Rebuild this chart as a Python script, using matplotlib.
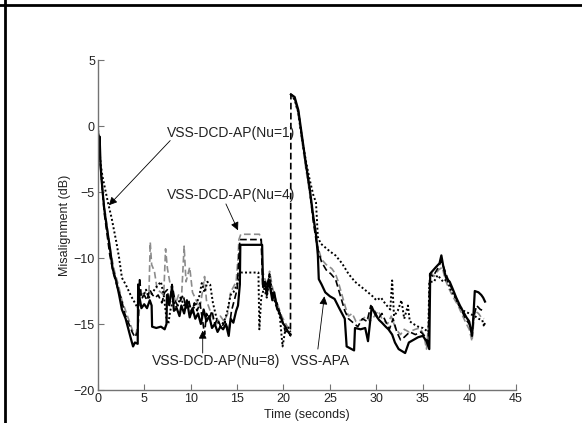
import numpy as np
import matplotlib
matplotlib.use("Agg")
import matplotlib.pyplot as plt
from matplotlib import font_manager
from matplotlib.lines import Line2D

# font: narrow sans if available (MATLAB screenshot look)
_names = {f.name for f in font_manager.fontManager.ttflist}
FONT = "Liberation Sans Narrow" if "Liberation Sans Narrow" in _names else "Liberation Sans"
plt.rcParams["font.family"] = [FONT, "DejaVu Sans"]

#  DATA  (time s, misalignment dB)
apa_pts = [
    (0, 0), (0.1, -1.5), (0.2, -0.8), (0.3, -3.0), (0.5, -4.8), (0.7, -6.3), (1.0, -7.8),
    (1.3, -9.2), (1.6, -10.8), (2.0, -11.8), (2.3, -12.8), (2.6, -13.9), (3.0, -14.6),
    (3.3, -15.4), (3.6, -16.2), (3.8, -16.7), (4.0, -16.4), (4.3, -16.5), (4.35, -12.0),
    (4.5, -13.0), (4.7, -13.8), (5.0, -13.5), (5.3, -13.8), (5.6, -13.2), (5.8, -13.6),
    (5.85, -15.2), (6.3, -15.3), (6.8, -15.2), (7.2, -15.4), (7.4, -15.0), (7.45, -12.8),
    (7.7, -13.5), (8.0, -12.2), (8.2, -14.0), (8.5, -13.8), (8.8, -14.4), (9.0, -13.6),
    (9.3, -14.2), (9.6, -13.2), (9.9, -14.5), (10.2, -13.8), (10.5, -14.6), (10.8, -14.2),
    (11.1, -15.0), (11.4, -13.9), (11.7, -14.8), (12.0, -14.4), (12.3, -15.3), (12.6, -15.0),
    (12.9, -15.6), (13.2, -15.2), (13.5, -15.4), (13.8, -15.0), (14.1, -15.9), (14.3, -14.6),
    (14.6, -14.9), (14.9, -14.0), (15.1, -13.6), (15.3, -12.0), (15.35, -9.0), (17.7, -9.0),
    (17.8, -12.2), (18.0, -11.8), (18.2, -12.8), (18.4, -11.6), (18.6, -12.4), (18.8, -13.2),
    (19.0, -12.6), (19.3, -13.8), (19.6, -14.2), (19.9, -14.9), (20.2, -15.2), (20.5, -15.6),
    (20.75, -15.8), (20.78, np.nan), (20.8, 2.4), (21.2, 2.2), (21.6, 1.2), (22.0, -0.8),
    (22.4, -2.8), (22.8, -4.6), (23.2, -6.8), (23.5, -8.2), (23.7, -9.8), (23.8, -11.6),
    (24.1, -12.0), (24.5, -12.6), (25.0, -12.9), (25.5, -13.1), (26.0, -13.8), (26.6, -14.6),
    (26.8, -16.7), (27.6, -17.0), (27.7, -15.3), (28.3, -15.4), (28.8, -15.3), (29.1, -16.3),
    (29.5, -13.7), (29.9, -14.3), (30.3, -14.7), (30.6, -14.9), (31.0, -15.2), (31.3, -15.4),
    (31.7, -15.8), (32.0, -16.4), (32.4, -16.9), (33.1, -17.2), (33.5, -16.4), (34.0, -16.2),
    (34.5, -16.0), (35.0, -15.9), (35.4, -16.3), (35.7, -16.9), (35.8, -11.2), (35.9, -11.1),
    (36.4, -10.7), (36.8, -10.4), (37.0, -9.8), (37.2, -10.6), (37.5, -11.5), (37.9, -11.8),
    (38.2, -12.3), (38.6, -13.0), (39.0, -13.6), (39.3, -14.0), (39.7, -14.5), (40.0, -14.8),
    (40.3, -15.9), (40.4, -15.0), (40.6, -12.5), (41.0, -12.6), (41.3, -12.8), (41.5, -13.0),
    (41.7, -13.3),
]

nu1_pts = [
    (0, 0), (0.15, -1.5), (0.3, -2.8), (0.5, -3.8), (0.8, -4.8), (1.1, -5.8), (1.5, -7.0),
    (2.0, -8.8), (2.3, -10.0), (2.6, -11.5), (3.0, -12.0), (3.6, -12.9), (4.0, -13.4),
    (4.3, -13.8), (4.5, -12.6), (4.8, -13.0), (5.2, -12.4), (5.5, -13.0), (5.9, -12.6),
    (6.3, -12.2), (6.8, -11.8), (7.1, -12.8), (7.4, -14.6), (7.6, -15.0), (7.8, -14.0),
    (8.1, -13.2), (8.5, -13.8), (8.9, -13.0), (9.3, -13.6), (9.7, -13.2), (10.1, -14.0),
    (10.5, -13.6), (10.9, -13.0), (11.2, -11.9), (11.5, -12.6), (11.8, -11.8), (12.1, -12.0),
    (12.4, -13.4), (12.8, -14.6), (13.2, -15.2), (13.6, -14.8), (13.9, -14.2), (14.3, -12.8),
    (14.6, -12.6), (15.0, -12.0), (15.3, -11.2), (15.4, -11.1), (17.3, -11.1), (17.4, -15.4),
    (17.6, -13.0), (17.9, -12.3), (18.2, -13.0), (18.5, -11.4), (18.8, -12.6), (19.2, -13.6),
    (19.6, -14.4), (19.9, -16.7), (20.2, -15.4), (20.5, -15.2), (20.75, -15.6), (20.78, np.nan),
    (20.8, 2.4), (21.2, 2.0), (21.6, 1.0), (22.0, -1.0), (22.4, -2.6), (22.8, -4.0),
    (23.2, -5.2), (23.5, -5.8), (23.7, -8.4), (24.0, -8.9), (24.5, -9.2), (25.0, -9.5),
    (25.6, -9.8), (26.3, -10.4), (27.0, -11.2), (27.7, -11.8), (28.4, -12.2), (29.1, -12.6),
    (29.6, -12.9), (30.0, -13.2), (30.5, -13.0), (31.0, -13.5), (31.5, -13.9), (31.7, -11.7),
    (31.9, -14.4), (32.3, -14.0), (32.7, -13.2), (33.0, -14.6), (33.4, -13.6), (33.6, -14.8),
    (34.0, -15.0), (34.5, -15.2), (35.0, -15.3), (35.4, -15.5), (35.6, -15.6), (35.7, -11.8),
    (36.2, -11.8), (36.6, -11.3), (37.2, -11.8), (37.6, -11.6), (38.0, -12.4), (38.5, -13.0),
    (38.9, -13.6), (39.4, -14.0), (40.0, -14.2), (40.6, -14.4), (41.0, -14.6), (41.4, -14.7),
    (41.6, -15.2), (41.7, -14.8),
]

nu4_pts = [
    (0, -0.2), (0.2, -1.8), (0.4, -4.2), (0.7, -6.0), (1.0, -7.6), (1.4, -9.6), (1.8, -11.0),
    (2.2, -12.0), (2.6, -13.2), (3.0, -14.0), (3.4, -14.8), (3.8, -15.6), (4.1, -15.8),
    (4.4, -14.8), (4.6, -12.4), (4.9, -12.8), (5.2, -12.5), (5.5, -13.0), (5.65, -8.8),
    (5.8, -10.5), (6.1, -11.0), (6.4, -12.4), (6.8, -12.6), (7.1, -12.8), (7.3, -9.3),
    (7.5, -10.8), (7.8, -12.0), (8.1, -12.6), (8.4, -13.4), (8.7, -12.8), (9.0, -13.2),
    (9.3, -9.1), (9.5, -11.8), (9.9, -10.7), (10.2, -12.6), (10.6, -13.2), (11.0, -13.8),
    (11.3, -12.4), (11.5, -11.4), (11.7, -13.2), (12.0, -13.8), (12.4, -14.6), (12.8, -15.0),
    (13.2, -14.4), (13.6, -14.8), (14.0, -14.2), (14.3, -12.6), (14.6, -12.2), (14.9, -11.8),
    (15.1, -10.0), (15.2, -8.6), (15.4, -8.2), (17.4, -8.2), (17.6, -8.5), (17.75, -11.0),
    (18.0, -11.6), (18.3, -12.2), (18.5, -11.0), (18.8, -12.2), (19.1, -13.0), (19.4, -13.6),
    (19.8, -14.4), (20.1, -14.8), (20.5, -15.3), (20.75, -15.4), (20.78, np.nan), (20.8, 2.4),
    (21.2, 2.0), (21.6, 0.8), (22.0, -1.2), (22.4, -3.2), (22.8, -5.0), (23.2, -7.0),
    (23.5, -8.4), (23.8, -9.4), (24.1, -10.1), (24.6, -10.5), (25.2, -10.8), (25.6, -11.2),
    (25.9, -11.8), (26.3, -12.8), (26.7, -13.8), (27.0, -14.4), (27.4, -14.2), (27.8, -14.8),
    (28.4, -14.7), (28.9, -14.4), (29.3, -14.8), (29.8, -14.4), (30.2, -14.0), (30.6, -14.6),
    (31.2, -15.0), (31.6, -14.4), (32.1, -15.4), (32.6, -15.8), (33.0, -15.4), (33.5, -15.6),
    (34.2, -15.4), (34.7, -15.3), (35.1, -15.8), (35.4, -16.9), (35.6, -15.2), (35.8, -11.0),
    (36.2, -11.4), (36.7, -10.9), (37.1, -10.7), (37.4, -11.6), (37.8, -12.3), (38.3, -13.0),
    (38.8, -13.6), (39.3, -14.4), (39.7, -15.0), (40.0, -15.4), (40.3, -16.3), (40.6, -14.0),
    (41.0, -14.2), (41.3, -14.5), (41.6, -14.6),
]

nu8_pts = [
    (0, 0.2), (0.2, -2.2), (0.4, -4.0), (0.7, -6.6), (1.0, -8.2), (1.3, -9.8), (1.7, -11.2),
    (2.1, -12.2), (2.5, -13.0), (2.9, -14.2), (3.3, -14.9), (3.7, -15.6), (4.0, -16.0),
    (4.3, -15.6), (4.5, -11.5), (4.7, -13.0), (5.0, -12.8), (5.3, -13.2), (5.6, -12.4),
    (5.9, -12.8), (6.2, -13.0), (6.5, -12.8), (6.9, -13.4), (7.2, -12.6), (7.5, -12.4),
    (7.7, -13.6), (8.0, -12.0), (8.3, -13.2), (8.6, -13.6), (8.9, -13.2), (9.2, -12.8),
    (9.5, -13.8), (9.8, -13.2), (10.1, -14.2), (10.4, -13.4), (10.7, -14.0), (11.0, -13.4),
    (11.3, -14.8), (11.5, -15.8), (11.7, -14.2), (12.0, -14.6), (12.3, -14.0), (12.6, -15.0),
    (12.9, -14.6), (13.3, -15.3), (13.7, -14.8), (14.1, -15.6), (14.4, -14.0), (14.7, -13.2),
    (15.0, -12.4), (15.3, -8.6), (17.6, -8.6), (17.75, -12.0), (18.0, -12.2), (18.3, -11.8),
    (18.5, -11.2), (18.7, -12.6), (19.0, -13.2), (19.3, -13.4), (19.6, -14.2), (19.9, -14.8),
    (20.2, -15.6), (20.5, -15.5), (20.75, -15.9), (20.8, 2.4), (21.2, 2.1), (21.6, 1.1),
    (22.0, -0.9), (22.4, -2.9), (22.8, -4.8), (23.2, -7.2), (23.5, -8.6), (23.8, -9.6),
    (24.1, -10.3), (24.6, -10.9), (25.1, -11.2), (25.6, -11.6), (26.1, -12.8), (26.6, -14.0),
    (27.0, -14.6), (27.5, -14.9), (28.0, -15.2), (28.5, -14.6), (29.0, -14.8), (29.4, -13.6),
    (29.8, -14.0), (30.2, -14.6), (30.6, -14.2), (31.0, -14.8), (31.4, -15.4), (31.8, -14.6),
    (32.2, -15.6), (32.6, -16.2), (33.0, -16.0), (33.6, -15.6), (34.2, -15.8), (34.8, -15.6),
    (35.3, -16.0), (35.6, -16.4), (35.75, -11.2), (36.1, -11.4), (36.6, -10.8), (37.0, -10.2),
    (37.4, -11.0), (37.8, -11.8), (38.3, -12.6), (38.8, -13.4), (39.2, -14.0), (39.6, -14.6),
    (40.0, -15.0), (40.3, -15.6), (40.5, -14.4), (40.8, -13.6), (41.2, -13.9), (41.6, -14.0),
]

# annotations: (label, text position, arrow head, arrow tail)
notes = [
    ("VSS-DCD-AP(Nu=1)", (7.5, -0.5), (1.2, -6.0), (7.8, -1.1)),
    ("VSS-DCD-AP(Nu=4)", (7.5, -5.2), (15.1, -7.9), (13.8, -5.9)),
    ("VSS-DCD-AP(Nu=8)", (5.8, -17.8), (11.3, -15.5), (11.3, -17.2)),
    ("VSS-APA", (20.8, -17.8), (24.4, -12.9), (23.7, -16.9)),
]

XTICKS = list(range(0, 50, 5))
YTICKS = list(range(-20, 10, 5))

#  PLOT
fig = plt.figure(figsize=(5.82, 4.23), dpi=100)
ax = fig.add_axes([0.168, 0.078, 0.718, 0.780])

def xy(pts):
    a = np.array(pts, dtype=float)
    return a[:, 0], a[:, 1]

t, y = xy(nu4_pts)
ax.plot(t, y, color="0.55", linestyle=(0, (4, 2)), linewidth=1.2)
t, y = xy(nu1_pts)
ax.plot(t, y, color="black", linestyle=(0, (1, 1.2)), linewidth=1.4)
t, y = xy(nu8_pts)
ax.plot(t, y, color="black", linestyle=(0, (4, 2)), linewidth=1.2)
t, y = xy(apa_pts)
ax.plot(t, y, color="black", linestyle="-", linewidth=1.6)

for label, txt, head, tail in notes:
    ax.annotate("", xy=head, xytext=tail,
                arrowprops=dict(arrowstyle="-|>", color="black", lw=0.6,
                                mutation_scale=12, shrinkA=0, shrinkB=0))
    ax.text(txt[0], txt[1], label, fontsize=10, color="#222222",
            ha="left", va="center")

ax.set_xlim(0, 45)
ax.set_ylim(-20, 5)
ax.set_xticks(XTICKS)
ax.set_yticks(YTICKS)
ax.tick_params(direction="in", length=4, width=0.8, color="0.45",
               labelsize=9, labelcolor="#222222", pad=2)
for side in ("top", "right"):
    ax.spines[side].set_visible(False)
for side in ("left", "bottom"):
    ax.spines[side].set_color("0.45")
    ax.spines[side].set_linewidth(1.0)
ax.set_xlabel("Time (seconds)", fontsize=9, color="#222222", labelpad=3)
ax.set_ylabel("Misalignment (dB)", fontsize=9, color="#222222", labelpad=2)

# frame lines of the cropped page
fig.add_artist(Line2D([0, 1], [1 - 5.5 / 423] * 2, color="black", lw=2))
fig.add_artist(Line2D([4.5 / 582] * 2, [0, 1], color="black", lw=2))

fig.savefig("out.png", dpi=100)
